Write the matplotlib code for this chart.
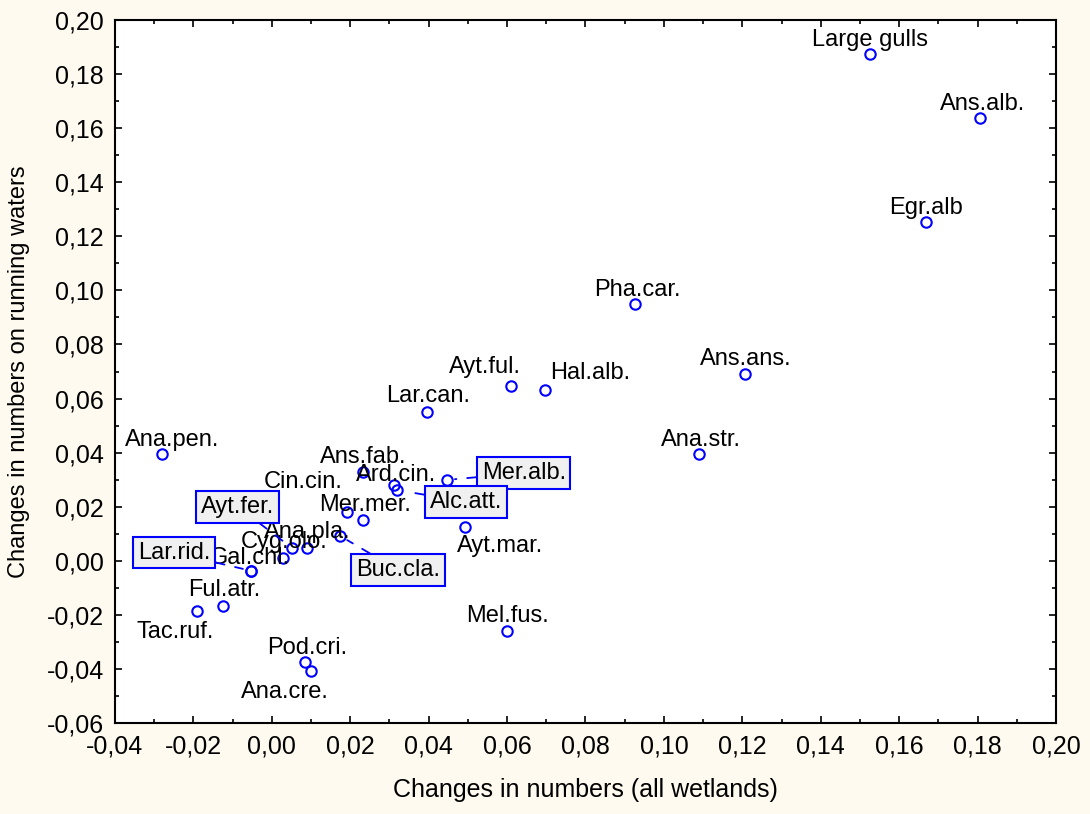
import numpy as np
import matplotlib
matplotlib.use("Agg")
import matplotlib.pyplot as plt
from matplotlib.ticker import MultipleLocator, FuncFormatter

plt.rcParams['font.family'] = ['Liberation Sans', 'DejaVu Sans']

# species, change (all wetlands), change (running waters)
species = ["Large gulls", "Ans.alb.", "Egr.alb", "Pha.car.", "Ans.ans.", "Hal.alb.",
           "Ayt.ful.", "Lar.can.", "Ana.str.", "Ana.pen.", "Ans.fab.", "Ard.cin.",
           "Cin.cin.", "Mer.mer.", "Ayt.mar.", "Ana.pla.", "Cyg.olo.", "Gal.chl.",
           "Ful.atr.", "Tac.ruf.", "Mel.fus.", "Pod.cri.", "Ana.cre."]
x_all = [0.1526, 0.1807, 0.1669, 0.0927, 0.1207, 0.0697,
         0.0610, 0.0396, 0.1090, -0.0280, 0.0233, 0.0312,
         0.0191, 0.0233, 0.0493, 0.0089, 0.0028, -0.0053,
         -0.0125, -0.0192, 0.0599, 0.0085, 0.0099]
y_run = [0.1874, 0.1638, 0.1253, 0.0950, 0.0691, 0.0632,
         0.0646, 0.0550, 0.0395, 0.0395, 0.0330, 0.0280,
         0.0179, 0.0151, 0.0126, 0.0046, 0.0009, -0.0037,
         -0.0167, -0.0185, -0.0259, -0.0375, -0.0406]

# species labelled with a framed box
boxed = ["Mer.alb.", "Alc.att.", "Ayt.fer.", "Buc.cla.", "Lar.rid."]
boxed_x = [0.0446, 0.0319, 0.0051, 0.0174, -0.0053]
boxed_y = [0.0299, 0.0262, 0.0048, 0.0092, -0.0037]

# label offsets in pixels (dx, dy)
label_off = [(0, 14), (2, 14), (0, 14), (2, 14), (1, 15), (45, 17),
             (-26, 19), (1, 16), (2, 14), (10, 14), (0, 15), (2, 10),
             (-44, 30), (2, 15), (35, -19), (1, 16), (1, 16), (-1, 13),
             (1, 16), (-21, -21), (1, 15), (2, 14), (-26, -21)]
box_off = [(77, 7), (69, -12), (-54, 41), (58, -34), (-77, 18)]

fig = plt.figure(figsize=(10.9, 8.14), dpi=100, facecolor='#fefaef')
ax = fig.add_axes([0.1055, 0.1118, 0.8633, 0.8636])
ax.set_facecolor('white')

ax.plot(x_all + boxed_x, y_run + boxed_y, 'o', mfc='none', mec='blue',
        mew=1.5, ms=7.5, zorder=3)

for name, x, y, (dx, dy) in zip(species, x_all, y_run, label_off):
    ax.annotate(name, (x, y), xytext=(dx, dy), textcoords='offset pixels',
                ha='center', va='center', fontsize=17, color='black')

for name, x, y, (dx, dy) in zip(boxed, boxed_x, boxed_y, box_off):
    ax.annotate(name, (x, y), xytext=(dx, dy), textcoords='offset pixels',
                ha='center', va='center', fontsize=17, color='black',
                bbox=dict(boxstyle='square,pad=0.2', fc='#f0f0f0', ec='blue', lw=1.5),
                arrowprops=dict(arrowstyle='-', color='blue', lw=1.3,
                                linestyle=(0, (5, 6)), shrinkA=0, shrinkB=6),
                zorder=4)

ax.set_xlim(-0.04, 0.20)
ax.set_ylim(-0.06, 0.20)
ax.xaxis.set_major_locator(MultipleLocator(0.02))
ax.xaxis.set_minor_locator(MultipleLocator(0.01))
ax.yaxis.set_major_locator(MultipleLocator(0.02))
ax.yaxis.set_minor_locator(MultipleLocator(0.01))
fmt = FuncFormatter(lambda v, p: f"{v:.2f}".replace('.', ',').replace('-0,00', '0,00'))
ax.xaxis.set_major_formatter(fmt)
ax.yaxis.set_major_formatter(fmt)
ax.tick_params(which='both', direction='in', top=True, right=True, labelsize=18, width=1.2)
ax.tick_params(which='major', length=5, pad=8)
ax.tick_params(which='minor', length=3)
for s in ax.spines.values():
    s.set_linewidth(1.5)

ax.set_xlabel("Changes in numbers (all wetlands)", fontsize=18, labelpad=14)
ax.set_ylabel("Changes in numbers on running waters", fontsize=17, labelpad=12)

fig.savefig("out.png", dpi=100, facecolor=fig.get_facecolor())
